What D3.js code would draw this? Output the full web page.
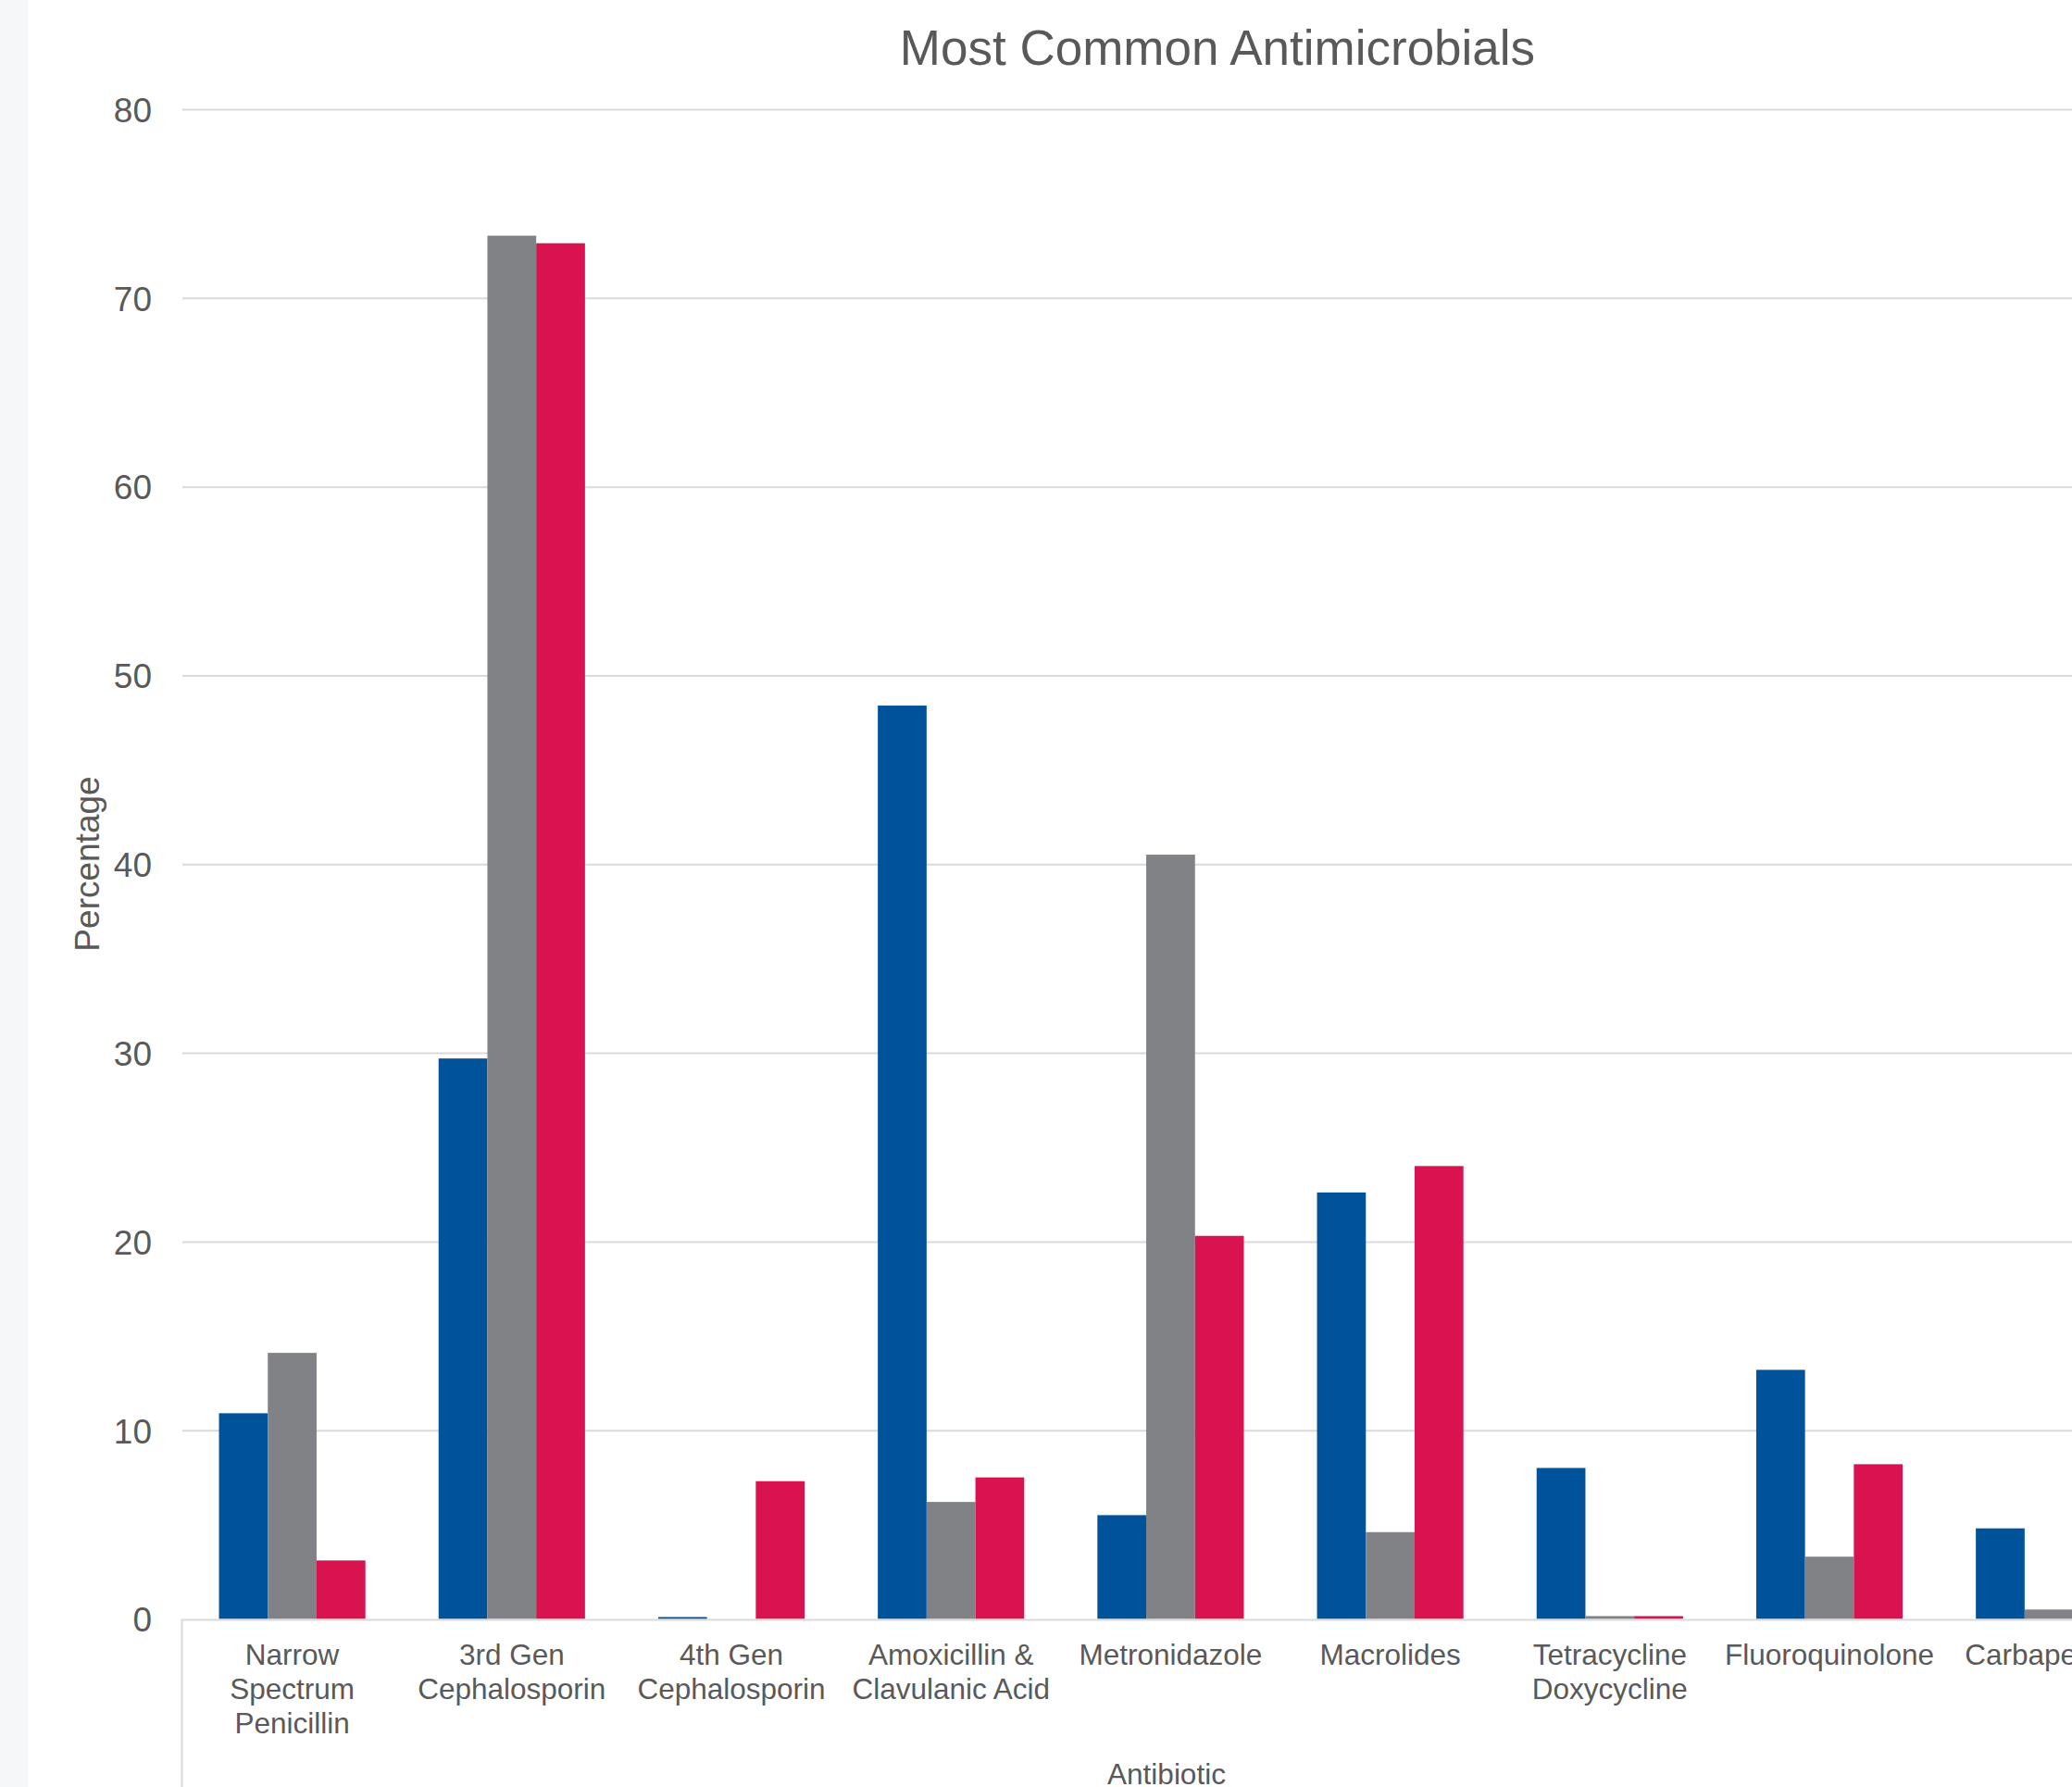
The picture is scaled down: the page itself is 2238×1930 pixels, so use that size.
<!DOCTYPE html>
<html>
<head>
<meta charset="utf-8">
<script src="https://cdn.jsdelivr.net/npm/d3@7"></script>
<style>
  html, body { margin: 0; padding: 0; background: #ffffff; }
  svg { display: block; }
  text { font-family: "Liberation Sans", Arial, sans-serif; fill: #595959; }
</style>
</head>
<body>
<script>
// Antibiotic classes (line breaks mark wrapped axis labels)
const categories = [
  "Narrow\nSpectrum\nPenicillin",
  "3rd Gen\nCephalosporin",
  "4th Gen\nCephalosporin",
  "Amoxicillin &\nClavulanic Acid",
  "Metronidazole",
  "Macrolides",
  "Tetracycline\nDoxycycline",
  "Fluoroquinolone",
  "Carbapenem"
];

const seriesNames = ["Group 1", "Group 2", "Group 3"];
const seriesColors = ["#00529b", "#808285", "#d9134f"];

// Percentage values per series, one per category
const group1 = [10.9, 29.7, 0.1, 48.4, 5.5, 22.6, 8.0, 13.2, 4.8];
const group2 = [14.1, 73.3, 0, 6.2, 40.5, 4.6, 0.15, 3.3, 0.5];
const group3 = [3.1, 72.9, 7.3, 7.5, 20.3, 24.0, 0.15, 8.2, 0];

const yTicks = [0, 10, 20, 30, 40, 50, 60, 70, 80];

const W = 2238, H = 1930;
const plot = { left: 197, top: 118, bottom: 1748.5, band: 237.2 };
const plotRight = plot.left + plot.band * categories.length;

const svg = d3.select("body").append("svg")
  .attr("width", W).attr("height", H);

// page strip on the left
svg.append("rect").attr("x", 0).attr("y", 0).attr("width", 30).attr("height", H)
  .attr("fill", "#f5f7f9");

const x0 = d3.scaleBand().domain(categories).range([plot.left, plotRight]).padding(0);
const x1 = d3.scaleBand().domain(seriesNames).range([0, x0.bandwidth()])
  .paddingInner(0).paddingOuter(0.75);
const y = d3.scaleLinear().domain([0, 80]).range([plot.bottom, plot.top]);

// horizontal gridlines
const grid = svg.append("g").attr("transform", `translate(${plot.left},0)`)
  .call(d3.axisLeft(y).tickValues(yTicks.slice(1)).tickSize(-(plotRight - plot.left)).tickFormat(""));
grid.select(".domain").remove();
grid.selectAll(".tick line").attr("stroke", "#d9d9d9").attr("stroke-width", 2);

// y tick labels
const yAxis = svg.append("g").attr("transform", `translate(${plot.left - 33},0)`)
  .call(d3.axisLeft(y).tickValues(yTicks).tickSize(0).tickPadding(0));
yAxis.select(".domain").remove();
yAxis.selectAll("text")
  .attr("font-size", 37).attr("fill", "#595959").attr("dy", "0.36em")
  .style("font-family", "'Liberation Sans', Arial, sans-serif");

// bars
const rows = categories.map((c, i) => ({
  cat: c,
  vals: [group1[i], group2[i], group3[i]]
}));
const gCat = svg.append("g").selectAll("g").data(rows).join("g")
  .attr("transform", d => `translate(${x0(d.cat)},0)`);
gCat.selectAll("rect")
  .data(d => d.vals.map((v, k) => ({ key: seriesNames[k], v, color: seriesColors[k] })))
  .join("rect")
  .attr("x", d => x1(d.key))
  .attr("width", x1.bandwidth())
  .attr("y", d => y(d.v))
  .attr("height", d => y(0) - y(d.v))
  .attr("fill", d => d.color);

// category axis line and left boundary of label area
svg.append("line")
  .attr("x1", plot.left).attr("x2", plotRight)
  .attr("y1", y(0) + 1).attr("y2", y(0) + 1)
  .attr("stroke", "#d9d9d9").attr("stroke-width", 2);
svg.append("line")
  .attr("x1", plot.left - 0.5).attr("x2", plot.left - 0.5)
  .attr("y1", y(0)).attr("y2", H)
  .attr("stroke", "#d9d9d9").attr("stroke-width", 2);

// category labels
const labels = svg.append("g").selectAll("text").data(categories).join("text")
  .attr("text-anchor", "middle")
  .attr("font-size", 31.5)
  .attr("transform", d => `translate(${x0(d) + x0.bandwidth() / 2},${y(0) + 49.5})`);
labels.selectAll("tspan").data(d => d.split("\n")).join("tspan")
  .attr("x", 0).attr("dy", (d, i) => i === 0 ? 0 : 37)
  .text(d => d);

// titles
svg.append("text").attr("x", 1315).attr("y", 70)
  .attr("text-anchor", "middle").attr("font-size", 53)
  .text("Most Common Antimicrobials");

svg.append("text")
  .attr("transform", `translate(107,933) rotate(-90)`)
  .attr("text-anchor", "middle").attr("font-size", 37)
  .text("Percentage");

svg.append("text").attr("x", 1260).attr("y", 1927)
  .attr("text-anchor", "middle").attr("font-size", 31.5)
  .text("Antibiotic");
</script>
</body>
</html>
